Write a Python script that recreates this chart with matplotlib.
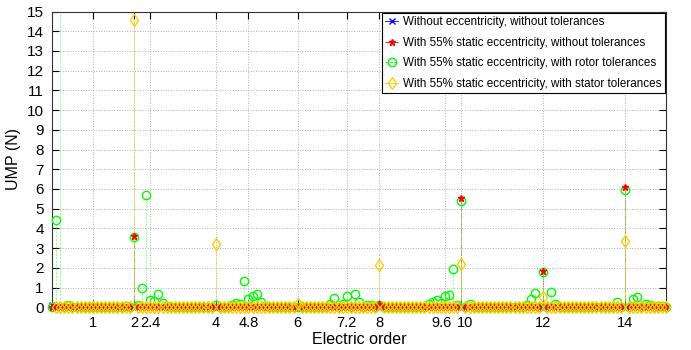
import matplotlib.pyplot as plt
import matplotlib.transforms as mtransforms
import numpy as np

plt.rcParams['font.family'] = ['Liberation Sans', 'DejaVu Sans']

# electric orders sampled every 0.1 from 0 to 15
orders = np.round(np.arange(151) * 0.1, 1)

# non-zero harmonics of each case (order, UMP in N); everything else is 0
healthy_orders = [0.0, 2.0, 4.0, 10.0, 12.0, 14.0]
healthy_ump = [0.12, 0.05, 0.05, 0.05, 0.05, 0.05]

ecc_orders = [2.0, 8.0, 10.0, 12.0, 14.0]
ecc_ump = [3.6, 0.15, 5.52, 1.85, 6.1]

rotor_orders = [0.1, 0.2, 0.4, 1.8, 2.0, 2.1, 2.2, 2.3, 2.4, 2.5, 2.6, 2.7, 2.8,
                4.0, 4.4, 4.5, 4.6, 4.7, 4.8, 4.9, 5.0, 5.1, 5.2,
                6.8, 6.9, 7.1, 7.2, 7.4, 7.5, 7.7, 7.8, 8.0,
                9.2, 9.3, 9.4, 9.5, 9.6, 9.7, 9.8, 9.9, 10.0, 10.2,
                11.6, 11.7, 11.8, 12.0, 12.2, 12.3,
                13.8, 14.0, 14.2, 14.3, 14.5, 14.6, 14.8, 14.9]
rotor_ump = [4.44, 16.0, 0.14, 0.05, 3.57, 0.1, 0.98, 5.69, 0.36, 0.3, 0.69, 0.22, 0.08,
             0.1, 0.14, 0.24, 0.19, 1.35, 0.4, 0.56, 0.65, 0.25, 0.05,
             0.15, 0.46, 0.15, 0.56, 0.69, 0.25, 0.1, 0.12, 0.1,
             0.15, 0.26, 0.38, 0.2, 0.55, 0.6, 1.95, 0.12, 5.38, 0.17,
             0.12, 0.44, 0.75, 1.8, 0.79, 0.17,
             0.26, 5.94, 0.4, 0.5, 0.17, 0.1, 0.08, 0.08]

stator_orders = [0.0, 2.0, 4.0, 6.0, 8.0, 10.0, 12.0, 14.0]
stator_ump = [16.0, 14.55, 3.22, 0.18, 2.14, 2.18, 0.52, 3.37]

xtick_vals = [1, 2, 2.4, 4, 4.8, 6, 7.2, 8, 9.6, 10, 12, 14]
xtick_text = ['1', '2', '2.4', '4', '4.8', '6', '7.2', '8', '9.6', '10', '12', '14']


def full_series(pos, vals):
    y = np.zeros(len(orders))
    for p, v in zip(pos, vals):
        y[int(round(p * 10))] = v
    return y


fig = plt.figure(figsize=(6.91, 3.5), dpi=100)
ax = fig.add_axes([52 / 691, 42.7 / 350, 614 / 691, 295.8 / 350])

# colour, stem style, marker, marker size, marker zorder, label
series = [
    (healthy_orders, healthy_ump, '#0000ff', '-', 'x', 4, 3.0, 'Without eccentricity, without tolerances'),
    (ecc_orders, ecc_ump, '#ff0000', '-.', '*', 5, 3.2, 'With 55% static eccentricity, without tolerances'),
    (rotor_orders, rotor_ump, '#00ff00', '--', 'o', 6, 3.1, 'With 55% static eccentricity, with rotor tolerances'),
    (stator_orders, stator_ump, '#ffcc00', '-', 'd', 6, 3.3, 'With 55% static eccentricity, with stator tolerances'),
]

for pos, vals, col, ls, mk, ms, z, lab in series:
    y = full_series(pos, vals)
    ax.vlines(orders, 0, y, colors=col, linestyles=ls, linewidth=0.5, alpha=0.55, zorder=2)
    inside = y <= 15
    ax.plot(orders[inside], y[inside], linestyle='none', marker=mk, markersize=ms, color=col,
            markerfacecolor='none' if mk in 'od' else col, markeredgewidth=1.0,
            zorder=z, clip_on=False)
    ax.plot([], [], linestyle=ls, marker=mk, markersize=ms, color=col, linewidth=0.6,
            markerfacecolor='none' if mk in 'od' else col, label=lab)

ax.set_xlim(0, 15)
ax.set_ylim(0, 15)
ax.set_yticks(range(16))
ax.set_xticks(xtick_vals)
ax.set_xticklabels(xtick_text)
ax.tick_params(direction='in', top=True, right=True, length=5, labelsize=11, pad=6)
ax.tick_params(axis='x', labelsize=10.5)

# 9.6 and 10 sit close together, push them apart a little
for lbl in ax.get_xticklabels():
    if lbl.get_text() in ('9.6', '10'):
        dx = -2.5 if lbl.get_text() == '9.6' else 2.5
        lbl.set_transform(lbl.get_transform() +
                          mtransforms.ScaledTranslation(dx / 72, 0, fig.dpi_scale_trans))

ax.grid(True, color='#b0b0b0', linestyle=':', linewidth=0.7)
ax.set_axisbelow(True)
for s in ax.spines.values():
    s.set_color('#333333')
    s.set_linewidth(0.8)

ax.set_xlabel('Electric order', fontsize=11.5, labelpad=2)
ax.set_ylabel('UMP (N)', fontsize=11.5, labelpad=4)

leg = ax.legend(loc='upper right', fontsize=8.4, frameon=True, fancybox=False,
                edgecolor='black', framealpha=1, handlelength=1.1, handletextpad=0.4,
                borderpad=0.3, labelspacing=0.72, borderaxespad=0.12)
leg.get_frame().set_linewidth(0.8)
leg.set_zorder(5)

fig.savefig('out.png', dpi=100)
